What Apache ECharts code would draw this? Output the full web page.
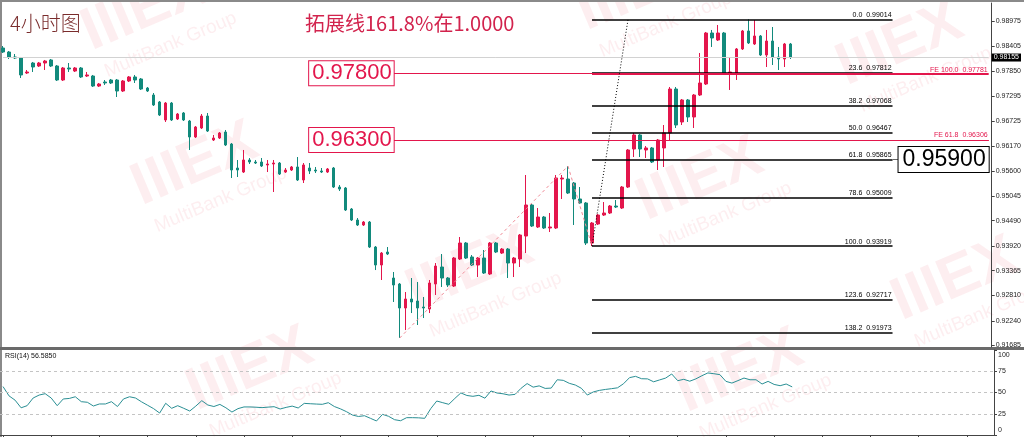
<!DOCTYPE html>
<html><head><meta charset="utf-8">
<script src="https://cdn.jsdelivr.net/npm/echarts@6/dist/echarts.min.js"></script>
<style>html,body{margin:0;padding:0;background:#fff;overflow:hidden}#c{width:1024px;height:437px}</style>
</head><body><div id="c"></div>
<script>
// ---- data ----
const opens = [0.98369,0.98279,0.98167,0.98144,0.97808,0.98032,0.97965,0.98032,0.98100,0.97965,
0.97650,0.97920,0.97852,0.97920,0.97740,0.97740,0.97515,0.97605,0.97650,0.97650,
0.97403,0.97628,0.97718,0.97673,0.97470,0.97313,0.97156,0.96752,0.97133,0.96774,
0.96909,0.96729,0.96370,0.96572,0.96841,0.96302,0.96347,0.96482,0.96212,0.95673,
0.95583,0.95853,0.95808,0.95808,0.95741,0.95763,0.95785,0.95583,0.95628,0.95696,
0.95404,0.95673,0.95628,0.95606,0.95583,0.95673,0.95246,0.95224,0.94752,0.94505,
0.94393,0.94460,0.93898,0.93494,0.93786,0.93202,0.93067,0.92528,0.92730,0.92685,
0.92550,0.92505,0.93067,0.93449,0.93202,0.93022,0.93629,0.93988,0.93674,0.93494,
0.93651,0.93292,0.93988,0.93763,0.93853,0.93539,0.93629,0.94145,0.94842,0.94348,
0.94572,0.94325,0.94325,0.95426,0.95426,0.95336,0.94977,0.94887,0.93988,0.94415,
0.94617,0.94662,0.94819,0.94774,0.95246,0.96100,0.96415,0.96078,0.96123,0.95853,
0.96123,0.96460,0.97448,0.96707,0.97201,0.96819,0.97313,0.97560,0.98706,0.98549,
0.98706,0.97808,0.97808,0.98347,0.98751,0.98459,0.98639,0.98212,0.98526,0.98167,
0.98122,0.98459];
const closes = [0.98279,0.98167,0.98144,0.97763,0.97830,0.97942,0.98032,0.98077,0.97965,0.97650,
0.97920,0.97897,0.97920,0.97718,0.97763,0.97515,0.97560,0.97583,0.97583,0.97403,
0.97628,0.97718,0.97650,0.97448,0.97403,0.97089,0.96864,0.97133,0.96752,0.96886,
0.96752,0.96370,0.96594,0.96841,0.96504,0.96347,0.96460,0.96190,0.95628,0.95628,
0.95853,0.95808,0.95785,0.95718,0.95763,0.95785,0.95538,0.95628,0.95696,0.95404,
0.95741,0.95606,0.95606,0.95583,0.95651,0.95246,0.95201,0.94730,0.94505,0.94393,
0.94460,0.93898,0.93494,0.93763,0.93741,0.93045,0.92528,0.92730,0.92663,0.92528,
0.92528,0.93089,0.93471,0.93202,0.93045,0.93651,0.93988,0.93651,0.93494,0.93651,
0.93314,0.93988,0.93786,0.93853,0.93539,0.93651,0.94168,0.94842,0.94370,0.94572,
0.94325,0.94348,0.95448,0.95448,0.95111,0.94977,0.94887,0.93988,0.94437,0.94617,
0.94662,0.94819,0.94797,0.95246,0.96078,0.96415,0.96100,0.96123,0.95808,0.96302,
0.96460,0.97448,0.96639,0.97201,0.96819,0.97313,0.97583,0.98706,0.98594,0.98706,
0.97808,0.97830,0.98347,0.98751,0.98482,0.98639,0.98212,0.98526,0.98167,0.98122,
0.98459,0.98155];
const lows = [0.98257,0.98122,0.98122,0.97695,0.97785,0.97830,0.97942,0.97875,0.97942,0.97628,
0.97628,0.97830,0.97830,0.97695,0.97718,0.97493,0.97493,0.97538,0.97560,0.97268,
0.97381,0.97605,0.97583,0.97426,0.97381,0.97066,0.96841,0.96707,0.96729,0.96752,
0.96729,0.96078,0.96347,0.96549,0.96482,0.96280,0.96325,0.96167,0.95448,0.95471,
0.95561,0.95763,0.95763,0.95696,0.95583,0.95134,0.95516,0.95561,0.95606,0.95381,
0.95336,0.95538,0.95561,0.95561,0.95561,0.95224,0.95156,0.94707,0.94482,0.94370,
0.94370,0.93876,0.93381,0.93157,0.93718,0.92663,0.91854,0.92033,0.92415,0.92146,
0.92303,0.92415,0.92820,0.93000,0.93000,0.93000,0.93606,0.93629,0.93471,0.93224,
0.93292,0.93269,0.93763,0.93741,0.93202,0.93224,0.93449,0.93763,0.94348,0.94325,
0.94303,0.94235,0.94303,0.94977,0.95089,0.94393,0.94864,0.93943,0.93919,0.94393,
0.94595,0.94640,0.94774,0.94752,0.95224,0.95920,0.95920,0.95898,0.95785,0.95628,
0.95696,0.96302,0.96572,0.96639,0.96707,0.96572,0.97291,0.97538,0.98392,0.98526,
0.97785,0.97426,0.97650,0.98324,0.98459,0.98437,0.98189,0.97942,0.97987,0.97875,
0.97942,0.98122];
const highs = [0.98414,0.98302,0.98234,0.98167,0.97875,0.98055,0.98055,0.98100,0.98122,0.97987,
0.97942,0.98032,0.97942,0.97942,0.97830,0.97763,0.97583,0.97650,0.97673,0.97673,
0.97650,0.97740,0.97763,0.97695,0.97493,0.97358,0.97178,0.97156,0.97156,0.96909,
0.96931,0.96752,0.96617,0.96886,0.96909,0.96415,0.96482,0.96527,0.96235,0.95853,
0.96078,0.95898,0.95853,0.95898,0.95853,0.95853,0.95808,0.95673,0.95718,0.95920,
0.95785,0.95785,0.95696,0.95673,0.95673,0.95696,0.95291,0.95246,0.94774,0.94550,
0.94482,0.94482,0.93921,0.93786,0.93898,0.93337,0.93089,0.92887,0.93202,0.93112,
0.92775,0.93157,0.93539,0.93741,0.93224,0.93674,0.94123,0.94011,0.93718,0.93674,
0.93831,0.94011,0.94011,0.93876,0.93876,0.93674,0.94190,0.95516,0.94864,0.94774,
0.94595,0.94662,0.95516,0.95516,0.95716,0.95359,0.95246,0.94909,0.94460,0.94640,
0.94909,0.94842,0.94954,0.95269,0.96100,0.96460,0.96437,0.96167,0.96145,0.96325,
0.96639,0.97493,0.97493,0.97223,0.97223,0.97336,0.98257,0.98729,0.98774,0.98886,
0.98729,0.98144,0.98369,0.98774,0.99014,0.98998,0.98661,0.98774,0.98841,0.98392,
0.98482,0.98482];
const rsiValues = [57,46,41,32,34.5,43.5,47,48.6,43.5,34.5,
42.4,43,45,39.2,38.5,34.1,36.5,36.5,39.2,33.5,
42.4,45,43.5,39,35,31,25.8,37.3,31.4,34.5,
31.4,28.2,34,40.4,35.3,33.5,36,32,27,31,
33,33,32.7,32.2,32.8,33.3,30.6,32.5,34,31.8,
37.2,36.8,36.4,36.1,38,33.5,30.8,27.5,23.5,21.8,
22.7,19.6,16.5,24.3,22,18,16.8,20.4,20.4,20.2,
19.6,31,40,38,36.1,43,49.5,46.5,45.5,46.7,
43.3,51.8,49.4,48.5,47,47.8,55,60.5,56.3,57.8,
54.8,55.2,65,64.3,60.8,58.8,55,47,50.7,52.5,
53.6,54.5,55.5,60.3,67.5,69,66.2,66,62.6,64.8,
67,71.8,63.9,65.5,63.3,66,69.7,73,72.1,71,
63.1,61.1,64,67,65,65,60,63.1,59.5,58,
60,56.585];
const priceTicks = [0.98975,0.98405,0.97850,0.97295,0.96725,0.96170,0.95600,0.95045,0.94490,0.93920,0.93365,0.92810,0.92240,0.91685];
const rsiTicks = [0,25,50,75,100];
const rsiLevels = [75,50,25];
const fibLevels = ['0.0','23.6','38.2','50.0','61.8','78.6','100.0','123.6','138.2'];
const fibPrices = [0.99014,0.97812,0.97068,0.96467,0.95865,0.95009,0.93919,0.92717,0.91973];
const feLevels = ['100.0','61.8'];
const fePrices = [0.97781,0.96306];
const markPrices = [0.97800,0.96300];
const targetText = '0.95900';
const lastPrice = 0.98155;
const rsiText = 'RSI(14) 56.5850';
const titleLeft = '4小时图';
const titleRight = '拓展线161.8%在1.0000';
// anchor bars of the drawn tools (bar indices)
const barA = 66, barB = 94, barC = 98, fibEnd = 148, fibTop = 103.5, boxStart = 64.6, lastBar = 164;
const priceA = 0.91854, priceB = 0.95716, priceC = 0.93919;

const N = 165;
const cats = Array.from({length:N}, (_, i) => String(i));
const candles = opens.map((o, i) => [o, closes[i], lows[i], highs[i]]);

const RED = '#e3164c', TEAL = '#128a7c';
const small = {fontFamily:'Liberation Sans, Arial, sans-serif', fontSize:7};

const markData = [];
fibPrices.forEach((p, k) => {
  markData.push([
    {coord:[barC, p], lineStyle:{color:'#000', width:1.7, type:'solid'},
     label:{show:true, position:'insideEndTop', distance:1, formatter: fibLevels[k] + '  ' + p.toFixed(5), color:'#000', ...small}},
    {coord:[fibEnd, p]}
  ]);
});
fePrices.forEach((p, k) => {
  markData.push([
    {coord:[barC, p], lineStyle:{color:RED, width:1, type:'solid'},
     label:{show:true, position:'insideEndTop', distance:1, formatter:'FE ' + feLevels[k] + '  ' + p.toFixed(5), color:RED, ...small}},
    {coord:[lastBar, p]}
  ]);
});
markPrices.forEach((p) => {
  markData.push([
    {coord:[boxStart, p], lineStyle:{color:RED, width:1.2, type:'solid'},
     label:{show:true, position:'start', distance:0, formatter:p.toFixed(5), color:RED,
       fontFamily:'Liberation Sans, Arial, sans-serif', fontSize:22, backgroundColor:'#fff',
       borderColor:RED, borderWidth:1, padding:[2,2,0,3]}},
    {coord:[lastBar, p]}
  ]);
});
markData.push([
  {coord:[fibEnd, fibPrices[4]], lineStyle:{color:'#666', width:1, type:'solid'},
   label:{show:true, position:'end', distance:0, formatter:targetText, color:'#000',
     fontFamily:'Liberation Sans, Arial, sans-serif', fontSize:23, backgroundColor:'#fff',
     borderColor:'#000', borderWidth:1, padding:[2,3,0,4]}},
  {coord:[fibEnd + 1.3, fibPrices[4]]}
]);
markData.push([
  {coord:[barA, priceA], lineStyle:{color:'#f08a96', width:1, type:[3,3]}, label:{show:false}},
  {coord:[barB, priceB]}
]);
markData.push([
  {coord:[barB, priceB], lineStyle:{color:'#f08a96', width:1, type:[3,3]}, label:{show:false}},
  {coord:[barC, priceC]}
]);
markData.push([
  {coord:[barC, priceC], lineStyle:{color:'#000', width:1, type:[1,2]}, label:{show:false}},
  {coord:[fibTop, fibPrices[0]]}
]);
markData.push([
  {coord:[0, lastPrice], lineStyle:{color:'#d2d2d2', width:1, type:'solid'},
   label:{show:true, position:'end', distance:3, formatter:lastPrice.toFixed(5), color:'#fff',
     backgroundColor:'#000', padding:[1,2,0,2], ...small}},
  {coord:[lastBar, lastPrice]}
]);

function wm(x, y) {
  return {type:'group', x:x, y:y, rotation:0.40, silent:true, z:-10, children:[
    {type:'text', x:0, y:0, style:{text:'IIIEX', fontFamily:'Liberation Sans, Arial', fontWeight:'bold',
      fontSize:60, fill:'rgba(228,40,70,0.08)', align:'center', verticalAlign:'middle'}},
    {type:'text', x:10, y:42, style:{text:'MultiBank Group', fontFamily:'Liberation Sans, Arial',
      fontSize:19, fill:'rgba(228,40,70,0.08)', align:'center', verticalAlign:'middle'}}
  ]};
}
const wmPos = [[145,10],[195,165],[470,270],[700,180],[640,-10],[900,45],[955,280],[250,370],[740,372]];

const chart = echarts.init(document.getElementById('c'), null, {renderer:'canvas'});
chart.setOption({
  animation:false,
  backgroundColor:'#fff',
  grid:[
    {left:0, right:30, top:3, height:344},
    {left:0, right:30, top:350, height:85}
  ],
  xAxis:[
    {type:'category', data:cats, gridIndex:0, boundaryGap:true, show:false},
    {type:'category', data:cats, gridIndex:1, boundaryGap:true,
      axisLine:{show:true, lineStyle:{color:'#444', width:1}},
      axisTick:{show:true, alignWithLabel:true, length:3, interval:(i) => i % 8 === 0, lineStyle:{color:'#444'}},
      axisLabel:{show:false}, splitLine:{show:false}}
  ],
  yAxis:[
    {type:'value', gridIndex:0, position:'right', min:0.91652, max:0.99380, scale:true,
      axisLine:{show:true, lineStyle:{color:'#444', width:1}},
      axisTick:{show:true, length:3, customValues:priceTicks, lineStyle:{color:'#444'}},
      axisLabel:{show:true, customValues:priceTicks, formatter:(v) => v.toFixed(5), margin:4, color:'#222', ...small},
      splitLine:{show:false}},
    {type:'value', gridIndex:1, position:'right', min:0, max:100,
      axisLine:{show:true, lineStyle:{color:'#444', width:1}},
      axisTick:{show:true, length:3, customValues:rsiTicks, lineStyle:{color:'#444'}},
      axisLabel:{show:true, customValues:rsiTicks, margin:4, color:'#222', ...small,
        formatter:(v) => v === 100 ? '{t|100}' : (v === 0 ? '{b|0}' : '{m|' + v + '}'),
        rich:{t:{padding:[10,0,0,0], ...small, color:'#222'}, b:{padding:[0,0,10,0], ...small, color:'#222'}, m:{...small, color:'#222'}}},
      splitLine:{show:false}}
  ],
  series:[
    {type:'candlestick', xAxisIndex:0, yAxisIndex:0, data:candles, barWidth:3,
      itemStyle:{color:RED, color0:TEAL, borderColor:RED, borderColor0:TEAL, borderWidth:1},
      markLine:{silent:true, symbol:['none','none'], animation:false, precision:5, data:markData}},
    {type:'line', xAxisIndex:1, yAxisIndex:1, data:rsiValues, symbol:'none',
      lineStyle:{color:'#2a8f94', width:1},
      markLine:{silent:true, symbol:['none','none'], animation:false,
        lineStyle:{color:'#c4c4c4', width:1, type:[3,3]}, label:{show:false},
        data:rsiLevels.map(v => ({yAxis:v}))}}
  ],
  graphic:[
    ...wmPos.map(p => wm(p[0], p[1])),
    {type:'rect', shape:{x:0, y:0, width:1024, height:2}, style:{fill:'#8a8a8a'}, silent:true},
    {type:'rect', shape:{x:0, y:0, width:2, height:437}, style:{fill:'#8a8a8a'}, silent:true},
    {type:'rect', shape:{x:0, y:347, width:1024, height:3}, style:{fill:'#6a6a6a'}, silent:true},
    {type:'text', left:10, top:13, style:{text:titleLeft, fontFamily:'Noto Sans CJK SC', fontSize:20, fontWeight:300, fill:'#7a2c2c'}},
    {type:'text', left:305, top:13, style:{text:titleRight, fontFamily:'Noto Sans CJK SC', fontSize:20, fill:'#d2234d'}},
    {type:'text', left:5, top:353, style:{text:rsiText, fill:'#111', ...small}}
  ]
});
</script>
</body></html>
